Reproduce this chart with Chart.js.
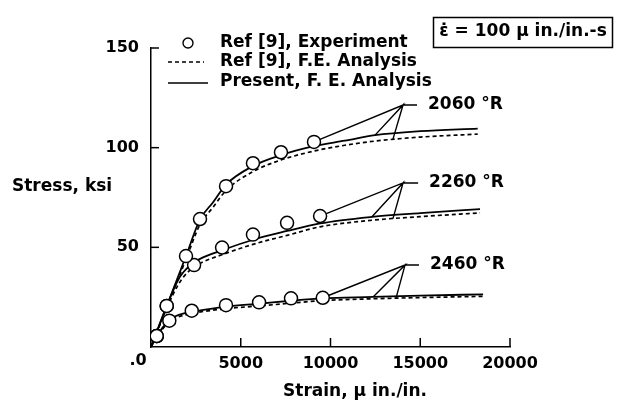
<!DOCTYPE html>
<html><head><meta charset="utf-8">
<script src="https://cdn.jsdelivr.net/npm/chart.js@4/dist/chart.umd.min.js"></script>
<style>html,body{margin:0;padding:0;background:#fff}canvas{display:block}</style>
</head><body>
<canvas id="c" width="624" height="408"></canvas>
<script>
// ---- tick labels / text ----
const xTickValues = [0, 5000, 10000, 15000, 20000];
const xTickLabels = ['.0', '5000', '10000', '15000', '20000'];
const yTickValues = [0, 50, 100, 150];
const yTickLabels = ['', '50', '100', '150'];
const xAxisTitle = 'Strain, \u03bc in./in.';
const yAxisTitle = 'Stress, ksi';
const legendLabels = ['Ref [9], Experiment', 'Ref [9], F.E. Analysis', 'Present, F. E. Analysis'];
const rateLabel = '\u03b5\u0307 = 100 \u03bc in./in.-s';
const tempLabels = ['2060 \u00b0R', '2260 \u00b0R', '2460 \u00b0R'];

// ---- experiment (circles) ----
const strain2060Exp = [318, 875, 1950, 2730, 4180, 5680, 7240, 9080];
const stress2060Exp = [5.5, 20.6, 45.6, 64.2, 80.7, 92.2, 97.7, 102.9];
const strain2260Exp = [318, 875, 2400, 3960, 5680, 7580, 9420];
const stress2260Exp = [5.5, 20.6, 41.1, 49.9, 56.4, 62.3, 65.7];
const strain2460Exp = [318, 1020, 2270, 4180, 6020, 7800, 9570];
const stress2460Exp = [5.5, 13.2, 18.2, 21.0, 22.4, 24.4, 24.7];

// ---- present F.E. analysis (solid) ----
const strain2060Present = [0, 1950, 2730, 3450, 4180, 5680, 7240, 9080, 10800, 12480, 15000, 18200];
const stress2060Present = [0, 45.6, 64.0, 72.5, 81.5, 90.8, 96.3, 100.8, 103.5, 106.3, 108.3, 109.6];
const strain2260Present = [0, 875, 1500, 1800, 2200, 2730, 3960, 5680, 7580, 9420, 12310, 15000, 18330];
const stress2260Present = [0, 20.6, 33.5, 37.5, 41.0, 44.2, 48.5, 53.8, 58.2, 62.0, 65.3, 67.2, 69.2];
const strain2460Present = [0, 318, 1000, 1300, 2000, 2360, 4220, 6020, 7800, 9570, 12370, 15000, 18500];
const stress2460Present = [0, 5.5, 13.3, 15.2, 17.2, 17.8, 20.3, 21.7, 23.2, 24.4, 25.1, 25.8, 26.4];

// ---- Ref [9] F.E. analysis (dashed) ----
const strain2060Ref = [0, 1950, 2730, 3450, 4180, 5680, 7240, 9080, 10800, 12480, 15000, 18200];
const stress2060Ref = [0, 44.0, 61.5, 70.0, 78.5, 88.0, 93.8, 98.3, 101.2, 103.3, 105.3, 106.8];
const strain2260Ref = [0, 875, 1500, 1800, 2200, 2730, 3960, 5680, 7580, 9420, 12310, 15000, 18330];
const stress2260Ref = [0, 19.5, 31.0, 35.0, 38.8, 42.0, 46.3, 51.5, 56.0, 60.3, 63.6, 65.4, 67.3];
const strain2460Ref = [0, 318, 1000, 1300, 2000, 2360, 4220, 6020, 7800, 9570, 12370, 15000, 18500];
const stress2460Ref = [0, 5.0, 12.5, 14.3, 16.3, 17.0, 19.3, 20.6, 22.0, 23.3, 24.2, 24.8, 25.4];

// ---- leader lines for temperature labels ----
const leaderHubX = [14040, 14040, 14150];
const leaderHubY = [121.4, 82.3, 41.1];
const leaderEndX = [14820, 14880, 14930];
const leaderTargetX = [[9080, 12480, 13480], [9420, 12310, 13480], [9570, 12370, 13650]];
const leaderTargetY = [[102.9, 106.3, 104.3], [65.7, 65.3, 64.4], [24.7, 25.1, 24.5]];

const FONT = '"DejaVu Sans", "Liberation Sans", sans-serif';
const pts = (xs, ys) => xs.map((x, i) => ({x: x, y: ys[i]}));

function expSet(xs, ys) {
  return {data: pts(xs, ys), showLine: false, pointStyle: 'circle', pointRadius: 6.5,
    pointBorderWidth: 1.5, pointBackgroundColor: '#fff', pointBorderColor: '#000'};
}
function curveSet(xs, ys, dashed) {
  return {data: pts(xs, ys), showLine: true, pointRadius: 0, borderColor: '#000',
    borderWidth: dashed ? 1.7 : 1.8, borderDash: dashed ? [4, 3] : [],
    cubicInterpolationMode: 'monotone', fill: false};
}
function leaderSet(k) {
  const hub = {x: leaderHubX[k], y: leaderHubY[k]};
  const d = [{x: leaderEndX[k], y: leaderHubY[k]}, hub];
  for (let j = 0; j < 3; j++) { d.push({x: leaderTargetX[k][j], y: leaderTargetY[k][j]}); d.push(hub); }
  return {data: d, showLine: true, pointRadius: 0, borderColor: '#000', borderWidth: 1.4, tension: 0, fill: false};
}

const deco = {
  id: 'deco',
  afterDraw(chart) {
    const ctx = chart.ctx, xs = chart.scales.x, ys = chart.scales.y;
    ctx.save();
    ctx.strokeStyle = '#000'; ctx.fillStyle = '#000'; ctx.lineWidth = 1.5;
    // inward ticks
    const x0 = xs.getPixelForValue(0), y0 = ys.getPixelForValue(0);
    xTickValues.forEach(v => { if (v === 0) return; const p = xs.getPixelForValue(v);
      ctx.beginPath(); ctx.moveTo(p, y0); ctx.lineTo(p, y0 - 9); ctx.stroke(); });
    yTickValues.forEach(v => { if (v === 0) return; const p = ys.getPixelForValue(v);
      ctx.beginPath(); ctx.moveTo(x0, p); ctx.lineTo(x0 + 8, p); ctx.stroke(); });
    ctx.font = 'bold 16px ' + FONT;
    ctx.textAlign = 'center'; ctx.textBaseline = 'middle';
    ctx.fillText(xTickLabels[0], x0 - 13, 361);
    ctx.font = 'bold 17px ' + FONT;
    // axis titles
    ctx.fillText(xAxisTitle, 355, 392);
    ctx.textAlign = 'left';
    ctx.fillText(yAxisTitle, 12, 187);
    // legend
    ctx.fillText(legendLabels[0], 220, 43);
    ctx.fillText(legendLabels[1], 220, 62);
    ctx.fillText(legendLabels[2], 220, 82);
    ctx.lineWidth = 1.4;
    ctx.beginPath(); ctx.arc(188, 43, 5, 0, Math.PI * 2); ctx.stroke();
    ctx.setLineDash([4, 3]);
    ctx.beginPath(); ctx.moveTo(168, 62); ctx.lineTo(204, 62); ctx.stroke();
    ctx.setLineDash([]);
    ctx.lineWidth = 1.6;
    ctx.beginPath(); ctx.moveTo(168, 83); ctx.lineTo(208, 83); ctx.stroke();
    // rate box
    ctx.lineWidth = 1.5;
    ctx.strokeRect(433.5, 17.5, 179, 30);
    ctx.textAlign = 'center';
    ctx.fillText(rateLabel, 523, 32);
    // temperature labels
    ctx.textAlign = 'left';
    for (let k = 0; k < 3; k++) {
      ctx.fillText(tempLabels[k], xs.getPixelForValue(leaderEndX[k]) + 11, ys.getPixelForValue(leaderHubY[k]));
    }
    ctx.restore();
  }
};

const tickFont = {family: FONT, weight: 'bold', size: 16};
new Chart(document.getElementById('c'), {
  type: 'scatter',
  data: {datasets: [
    expSet(strain2060Exp, stress2060Exp),
    expSet(strain2260Exp, stress2260Exp),
    expSet(strain2460Exp, stress2460Exp),
    curveSet(strain2060Present, stress2060Present, false),
    curveSet(strain2260Present, stress2260Present, false),
    curveSet(strain2460Present, stress2460Present, false),
    curveSet(strain2060Ref, stress2060Ref, true),
    curveSet(strain2260Ref, stress2260Ref, true),
    curveSet(strain2460Ref, stress2460Ref, true),
    leaderSet(0), leaderSet(1), leaderSet(2)
  ]},
  options: {
    responsive: false, animation: false, devicePixelRatio: 1,
    layout: {padding: {left: 0, top: 48, right: 114, bottom: 0}},
    plugins: {legend: {display: false}, tooltip: {enabled: false}},
    scales: {
      x: {type: 'linear', min: 0, max: 20000,
        grid: {display: false, drawTicks: false},
        border: {display: true, color: '#000', width: 1.5},
        ticks: {stepSize: 5000, autoSkip: false, maxRotation: 0, color: '#000', font: tickFont, padding: 7,
          callback: (v) => { const i = xTickValues.indexOf(v); return i > 0 ? xTickLabels[i] : ''; }},
        afterFit: (s) => { s.height = 61; }
      },
      y: {type: 'linear', min: 0, max: 150,
        grid: {display: false, drawTicks: false},
        border: {display: true, color: '#000', width: 1.5},
        ticks: {stepSize: 50, autoSkip: false, color: '#000', font: tickFont, padding: 12,
          callback: (v) => { const i = yTickValues.indexOf(v); return i >= 0 ? yTickLabels[i] : ''; }},
        afterFit: (s) => { s.width = 151; }
      }
    }
  },
  plugins: [deco]
});
</script>
</body></html>
